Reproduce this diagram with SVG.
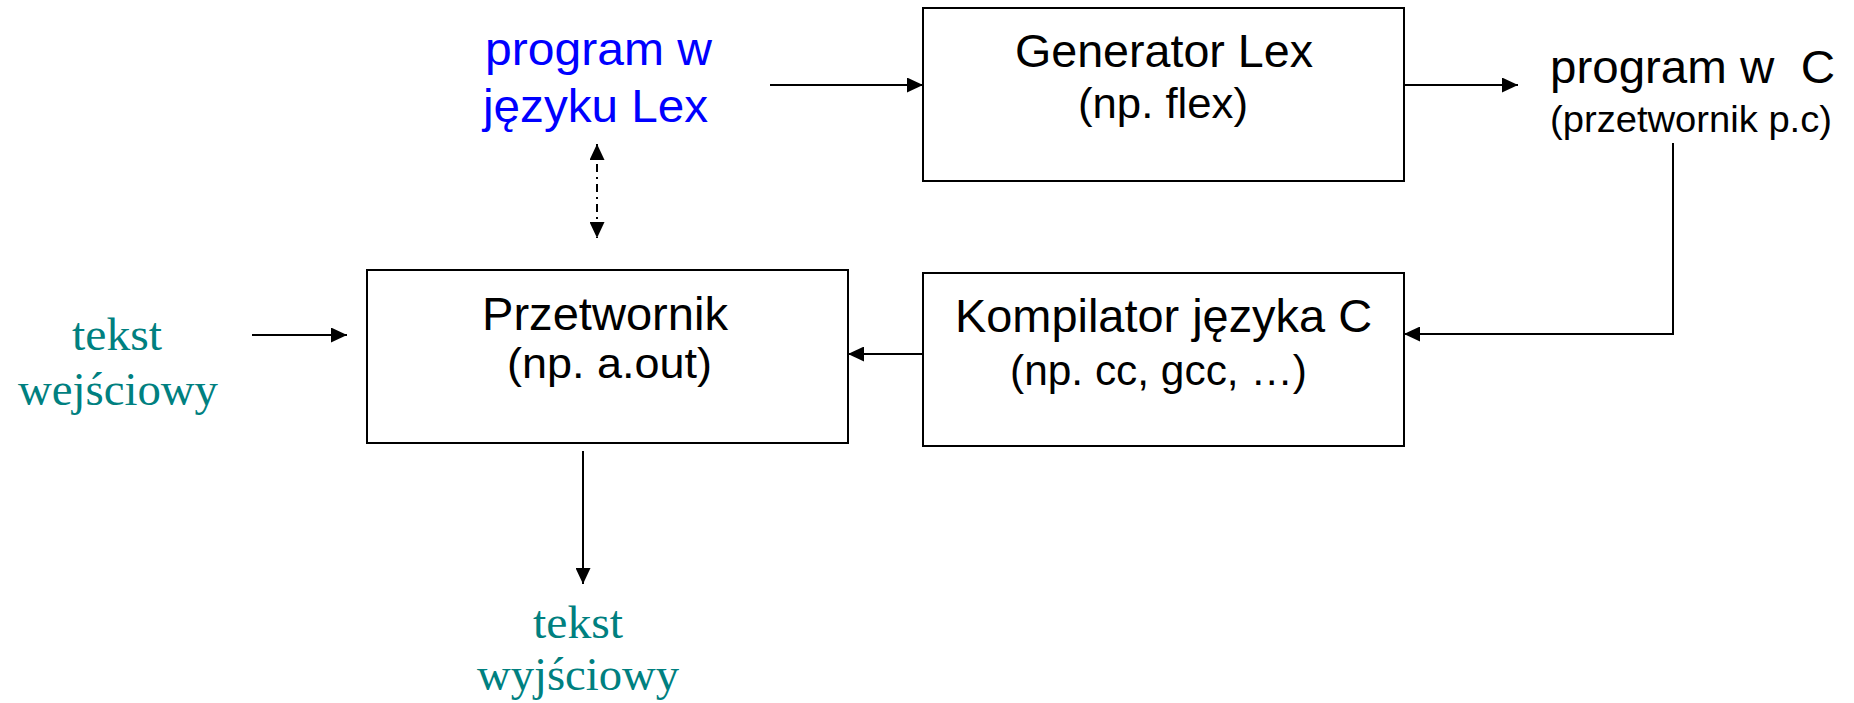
<svg xmlns="http://www.w3.org/2000/svg" width="1854" height="703" viewBox="0 0 1854 703">
  <style>
    .box { fill: #ffffff; stroke: #000000; stroke-width: 2; }
    .main { font-family: "Liberation Sans", Arial, sans-serif; font-size: 47px; fill: #000000; }
    .sub { font-family: "Liberation Sans", Arial, sans-serif; font-size: 43px; fill: #000000; }
    .small { font-family: "Liberation Sans", Arial, sans-serif; font-size: 37px; fill: #000000; }
    .blue { font-family: "Liberation Sans", Arial, sans-serif; font-size: 47px; fill: #0000ff; }
    .teal { font-family: "Liberation Serif", "Times New Roman", serif; font-size: 47px; fill: #008080; }
    .conn { fill: none; stroke: #000000; stroke-width: 2; }
    .dash { stroke-dasharray: 8 5 2 5; }
  </style>
  <defs>
    <marker id="arr" viewBox="0 0 16 15" refX="16" refY="7.5" markerWidth="16" markerHeight="15" markerUnits="userSpaceOnUse" orient="auto-start-reverse">
      <path d="M0,0 L16,7.5 L0,15 z" fill="#000000"/>
    </marker>
  </defs>

  <g id="connectors">
    <line class="conn" x1="770" y1="85" x2="923" y2="85" marker-end="url(#arr)"/>
    <line class="conn" x1="1404" y1="85" x2="1518" y2="85" marker-end="url(#arr)"/>
    <polyline class="conn" points="1673,143 1673,334 1404,334" marker-end="url(#arr)"/>
    <line class="conn" x1="923" y1="354" x2="848" y2="354" marker-end="url(#arr)"/>
    <line class="conn" x1="252" y1="335" x2="347" y2="335" marker-end="url(#arr)"/>
    <line class="conn" x1="583" y1="451" x2="583" y2="584" marker-end="url(#arr)"/>
    <line class="conn dash" x1="597" y1="144" x2="597" y2="238" marker-start="url(#arr)" marker-end="url(#arr)"/>
  </g>

  <g id="lex-source">
    <text class="blue" x="485" y="65" textLength="227" lengthAdjust="spacingAndGlyphs">program w</text>
    <text class="blue" x="483" y="122" textLength="225" lengthAdjust="spacingAndGlyphs">języku Lex</text>
  </g>

  <g id="generator">
    <rect class="box" x="923" y="8" width="481" height="173"/>
    <text class="main" x="1015" y="67" textLength="298" lengthAdjust="spacingAndGlyphs">Generator Lex</text>
    <text class="sub" x="1078" y="118" textLength="170" lengthAdjust="spacingAndGlyphs">(np. flex)</text>
  </g>

  <g id="c-program">
    <text class="main" x="1550" y="83" textLength="285" lengthAdjust="spacingAndGlyphs" xml:space="preserve">program w  C</text>
    <text class="small" x="1550" y="132" textLength="282" lengthAdjust="spacingAndGlyphs">(przetwornik p.c)</text>
  </g>

  <g id="kompilator">
    <rect class="box" x="923" y="273" width="481" height="173"/>
    <text class="main" x="955" y="332" textLength="417" lengthAdjust="spacingAndGlyphs">Kompilator języka C</text>
    <text class="sub" x="1010" y="385" textLength="297" lengthAdjust="spacingAndGlyphs">(np. cc, gcc, …)</text>
  </g>

  <g id="przetwornik">
    <rect class="box" x="367" y="270" width="481" height="173"/>
    <text class="main" x="482" y="330" textLength="246" lengthAdjust="spacingAndGlyphs">Przetwornik</text>
    <text class="sub" x="507" y="378" textLength="205" lengthAdjust="spacingAndGlyphs">(np. a.out)</text>
  </g>

  <g id="input-text">
    <text class="teal" x="72" y="350" textLength="90" lengthAdjust="spacingAndGlyphs">tekst</text>
    <text class="teal" x="18" y="405" textLength="200" lengthAdjust="spacingAndGlyphs">wejściowy</text>
  </g>

  <g id="output-text">
    <text class="teal" x="533" y="638" textLength="90" lengthAdjust="spacingAndGlyphs">tekst</text>
    <text class="teal" x="477" y="690" textLength="202" lengthAdjust="spacingAndGlyphs">wyjściowy</text>
  </g>
</svg>
